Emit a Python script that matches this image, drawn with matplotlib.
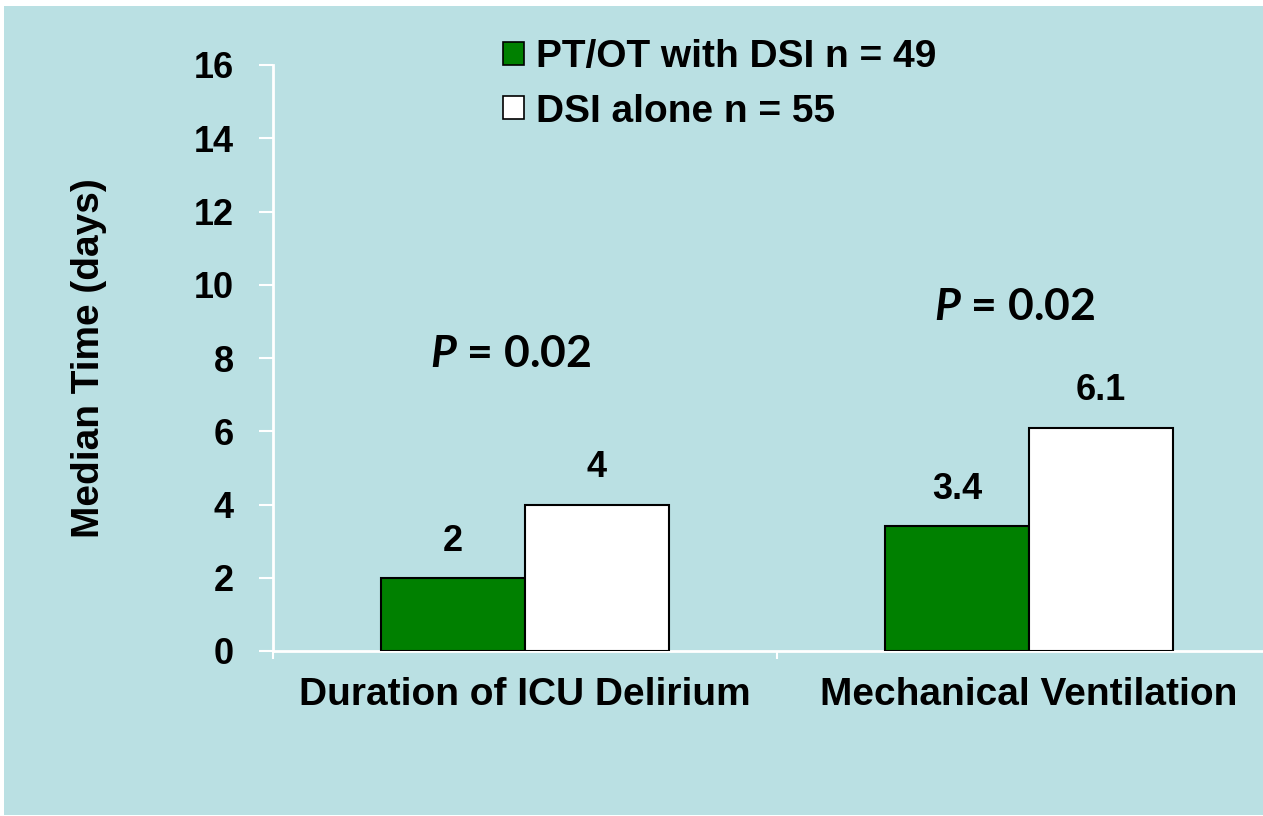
"""Median time bars: PT/OT with DSI vs DSI alone."""

import matplotlib

matplotlib.use("Agg")
import matplotlib.pyplot as plt
from matplotlib.patches import Patch, Rectangle

categories = ["Duration of ICU Delirium", "Mechanical Ventilation"]
series_names = ["PT/OT with DSI n = 49", "DSI alone n = 55"]
ptot_values = [2, 3.4]
dsi_values = [4, 6.1]
value_labels = [["2", "3.4"], ["4", "6.1"]]
p_labels = ["0.02", "0.02"]
p_heights = [8.1, 9.4]
y_ticks = [0, 2, 4, 6, 8, 10, 12, 14, 16]

BG = "#bae0e3"
GREEN = "#008000"

plt.rcParams["mathtext.fontset"] = "custom"
plt.rcParams["mathtext.it"] = "Lato:italic:bold"
plt.rcParams["mathtext.bf"] = "Lato:bold"

W, H = 1263, 816
fig = plt.figure(figsize=(W / 100, H / 100), dpi=100, facecolor="white")
fig.patches.append(
    Rectangle((4 / W, 1 / H), 1, 1 - 7 / H, transform=fig.transFigure,
              facecolor=BG, edgecolor="none", zorder=-10)
)

ax = fig.add_axes([273 / W, 165 / H, (W - 273) / W, (751 - 165) / H])
ax.set_facecolor("none")

bw = 144 / 504
xs = range(len(categories))
ax.bar([x - bw / 2 for x in xs], ptot_values, bw, color=GREEN,
       edgecolor="black", linewidth=1.5, label=series_names[0], zorder=3)
ax.bar([x + bw / 2 for x in xs], dsi_values, bw, color="white",
       edgecolor="black", linewidth=1.5, label=series_names[1], zorder=3)

lab_font = dict(family="Liberation Sans", weight="bold")
for i in xs:
    ax.text(i - bw / 2, ptot_values[i] + 1.0, value_labels[0][i],
            ha="center", va="center", fontsize=26, **lab_font)
    ax.text(i + bw / 2, dsi_values[i] + 1.0, value_labels[1][i],
            ha="center", va="center", fontsize=26, **lab_font)
    ax.text(i - 0.028, p_heights[i], r"$P$ = " + p_labels[i],
            ha="center", va="center", fontsize=32,
            family="Lato", weight="bold")

ax.set_yticks(y_ticks)
ax.set_yticklabels([str(t) for t in y_ticks], fontsize=26, **lab_font)
ax.set_xticks([-0.5, 0.5])
ax.set_xticklabels([])
ax.set_xticks(list(xs), minor=True)
ax.set_xticklabels(categories, minor=True, fontsize=28, **lab_font)
ax.set_xlim(-0.5, -0.5 + (W - 273) / 504)
ax.set_ylim(0, 16)
ax.tick_params(axis="x", which="minor", length=0, pad=19)
ax.tick_params(axis="x", which="major", length=6, width=1.5, color="white",
               direction="out")
ax.tick_params(axis="y", length=10, width=1.5, color="white", pad=18)

for s in ["top", "right"]:
    ax.spines[s].set_visible(False)
for s in ["left", "bottom"]:
    ax.spines[s].set_color("white")
    ax.spines[s].set_linewidth(2)

ax.set_ylabel("Median Time (days)", fontsize=28, **lab_font)
ax.yaxis.set_label_coords(-0.168, 0.5)

handles = [
    Patch(facecolor=GREEN, edgecolor="black", linewidth=1.2),
    Patch(facecolor="white", edgecolor="black", linewidth=1.2),
]
ax.legend(handles, series_names, loc="upper left",
          bbox_to_anchor=(503 / W, 1 - 39 / H), bbox_transform=fig.transFigure,
          frameon=False, handlelength=0.54, handleheight=0.54, handletextpad=0.3,
          labelspacing=0.48, borderaxespad=0, borderpad=0,
          prop=dict(family="Liberation Sans", weight="bold", size=28))

fig.savefig("out.png", dpi=100, facecolor=fig.get_facecolor())
